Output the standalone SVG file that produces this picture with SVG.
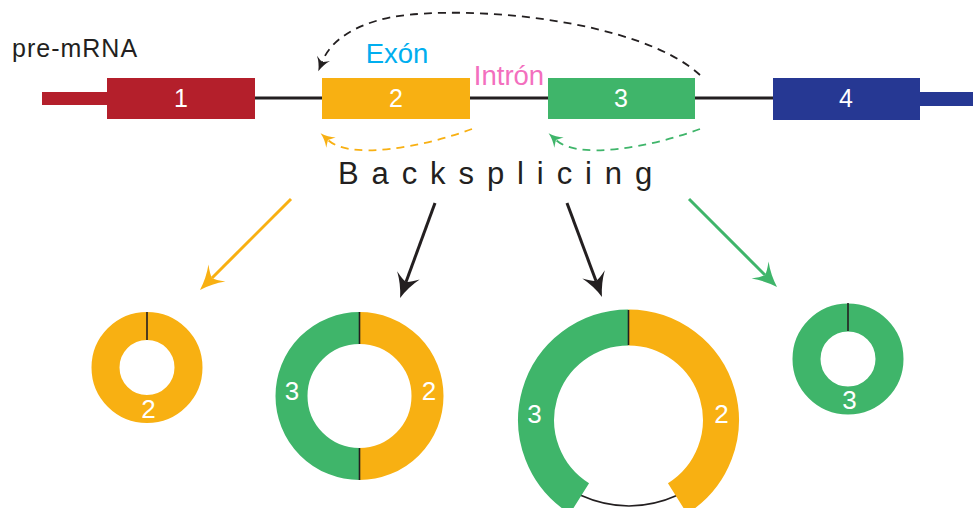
<svg xmlns="http://www.w3.org/2000/svg" width="973" height="508" viewBox="0 0 973 508">
<style>
text{font-family:"Liberation Sans",Arial,sans-serif}
.num{fill:#fff;font-size:25px;text-anchor:middle}
.rnum{fill:#fff;font-size:26px;text-anchor:middle}
.ring{fill:none}
.o{stroke:#f8b012}
.g{stroke:#3fb56a}
.tick{stroke:#231f20;stroke-width:1.6}
.arr{fill:none;stroke-width:3}
.dash{fill:none;stroke-width:1.8;stroke-dasharray:8 6}
</style>
<defs>
<marker id="ahk" markerUnits="userSpaceOnUse" orient="auto" refX="0" refY="0" markerWidth="40" markerHeight="40" overflow="visible"><path d="M17,0 Q4,-4 -7,-12 Q-1,-4 0,0 Q-1,4 -7,12 Q4,4 17,0 Z" fill="#231f20"/></marker>
<marker id="aho" markerUnits="userSpaceOnUse" orient="auto" refX="0" refY="0" markerWidth="40" markerHeight="40" overflow="visible"><path d="M17,0 Q4,-4 -7,-12 Q-1,-4 0,0 Q-1,4 -7,12 Q4,4 17,0 Z" fill="#f8b012"/></marker>
<marker id="ahg" markerUnits="userSpaceOnUse" orient="auto" refX="0" refY="0" markerWidth="40" markerHeight="40" overflow="visible"><path d="M17,0 Q4,-4 -7,-12 Q-1,-4 0,0 Q-1,4 -7,12 Q4,4 17,0 Z" fill="#3fb56a"/></marker>
<marker id="shk" markerUnits="userSpaceOnUse" orient="auto" refX="0" refY="0" markerWidth="20" markerHeight="20" overflow="visible"><path d="M10,0 Q2,-2 -4,-7 Q-1,-2 0,0 Q-1,2 -4,7 Q2,2 10,0 Z" fill="#231f20"/></marker>
<marker id="sho" markerUnits="userSpaceOnUse" orient="auto" refX="0" refY="0" markerWidth="20" markerHeight="20" overflow="visible"><path d="M10,0 Q2,-2 -4,-7 Q-1,-2 0,0 Q-1,2 -4,7 Q2,2 10,0 Z" fill="#f8b012"/></marker>
<marker id="shg" markerUnits="userSpaceOnUse" orient="auto" refX="0" refY="0" markerWidth="20" markerHeight="20" overflow="visible"><path d="M10,0 Q2,-2 -4,-7 Q-1,-2 0,0 Q-1,2 -4,7 Q2,2 10,0 Z" fill="#3fb56a"/></marker>
</defs>
<rect width="973" height="508" fill="#fff"/>

<g id="labels">
<text x="12" y="57" font-size="25" letter-spacing="1" fill="#231f20">pre-mRNA</text>
<text x="397" y="63" font-size="27.5" fill="#00aeef" text-anchor="middle">Exón</text>
<text x="509" y="85" font-size="27.5" fill="#f36fbe" text-anchor="middle">Intrón</text>
<text x="338" y="184" font-size="31" letter-spacing="12.9" fill="#231f20">Backsplicing</text>
</g>

<g id="premrna">
<line x1="255" y1="98" x2="773" y2="98" stroke="#231f20" stroke-width="3"/>
<rect x="42" y="92" width="66" height="13" fill="#b41f2b"/>
<rect x="920" y="92" width="53" height="14" fill="#263893"/>
</g>
<g id="exon1"><rect x="107" y="78" width="148" height="41" fill="#b41f2b"/><text class="num" x="181" y="107">1</text></g>
<g id="exon2"><rect x="322" y="78" width="148" height="41" fill="#f8b012"/><text class="num" x="396" y="107">2</text></g>
<g id="exon3"><rect x="548" y="78" width="147" height="41" fill="#3fb56a"/><text class="num" x="621" y="107">3</text></g>
<g id="exon4"><rect x="773" y="78" width="147" height="42" fill="#263893"/><text class="num" x="846" y="107">4</text></g>

<g id="connectors">
<path class="dash" stroke="#231f20" d="M700,75 C640,20 470,4 392,17 C352,25 330,42 322,62" marker-end="url(#shk)"/>
<path class="dash" stroke="#f8b012" d="M472,129 C420,148 350,160 328,140" marker-end="url(#sho)"/>
<path class="dash" stroke="#3fb56a" d="M700,129 C648,148 578,160 556,140" marker-end="url(#shg)"/>
<line class="arr" stroke="#f8b012" x1="291" y1="199" x2="212" y2="278" marker-end="url(#aho)"/>
<line class="arr" stroke="#231f20" x1="435" y1="203" x2="406" y2="282" marker-end="url(#ahk)"/>
<line class="arr" stroke="#231f20" x1="567" y1="203" x2="596" y2="281" marker-end="url(#ahk)"/>
<line class="arr" stroke="#3fb56a" x1="689" y1="199" x2="765" y2="275" marker-end="url(#ahg)"/>
</g>

<g id="circ1">
<circle class="ring o" cx="147" cy="367.5" r="41.5" stroke-width="28"/>
<line class="tick" x1="147" y1="312" x2="147" y2="340"/>
<text class="rnum" x="148.5" y="418">2</text>
</g>

<g id="circ2">
<path class="ring g" stroke-width="32" d="M359.5,328 A68,68 0 0 0 359.5,464"/>
<path class="ring o" stroke-width="32" d="M359.5,328 A68,68 0 0 1 359.5,464"/>
<line class="tick" x1="359.5" y1="312" x2="359.5" y2="344"/>
<line class="tick" x1="359.5" y1="448" x2="359.5" y2="480"/>
<text class="rnum" x="292" y="400">3</text>
<text class="rnum" x="429" y="400">2</text>
</g>

<g id="circ3">
<path d="M580,495 Q629,517 678,495" fill="none" stroke="#231f20" stroke-width="1.6"/>
<path class="ring g" stroke-width="36" d="M628.5,327.5 A92.5,92.5 0 0 0 579.5,498.4"/>
<path class="ring o" stroke-width="36" d="M628.5,327.5 A92.5,92.5 0 0 1 677.5,498.4"/>
<line class="tick" x1="628.5" y1="310" x2="628.5" y2="345"/>
<text class="rnum" x="534.5" y="423">3</text>
<text class="rnum" x="721.5" y="423">2</text>
</g>

<g id="circ4">
<circle class="ring g" cx="848" cy="359" r="41.5" stroke-width="28"/>
<line class="tick" x1="848" y1="303" x2="848" y2="331"/>
<text class="rnum" x="849.5" y="409">3</text>
</g>
</svg>
